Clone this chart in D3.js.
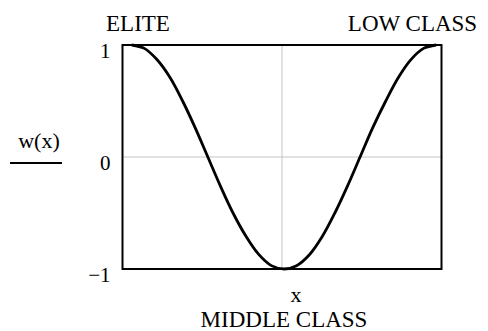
<!DOCTYPE html>
<html>
<head>
<meta charset="utf-8">
<script src="https://cdn.jsdelivr.net/npm/d3@7"></script>
<style>
  body { margin: 0; background: #fff; }
  text { font-family: "Liberation Serif", "Times New Roman", serif; fill: #000; }
</style>
</head>
<body>
<div id="chart"></div>
<script>
const xValues = [0, 0.26, 0.52, 0.79, 1.05, 1.31, 1.57, 1.83, 2.09, 2.36, 2.62, 2.88, 3.14,
                 3.40, 3.67, 3.93, 4.19, 4.45, 4.71, 4.97, 5.24, 5.50, 5.76, 6.02, 6.28];
const wValues = [1, 0.97, 0.87, 0.71, 0.5, 0.26, 0, -0.26, -0.5, -0.71, -0.87, -0.97, -1,
                 -0.97, -0.87, -0.71, -0.5, -0.26, 0, 0.26, 0.5, 0.71, 0.87, 0.97, 1];
const yTicks = [-1, 0, 1];
const xGrid = [3.1];
const yGrid = [0];

// Chart size and plot box
const width = 488, height = 331;
const margin = {top: 45, right: 46.5, bottom: 62, left: 122.5};

const svg = d3.select("#chart")
    .append("svg")
    .attr("width", width)
    .attr("height", height);

const x = d3.scaleLinear().domain([-0.19, 6.39]).range([margin.left, width - margin.right]);
const y = d3.scaleLinear().domain([-1, 1]).range([height - margin.bottom, margin.top]);

// Grid lines
svg.selectAll(".vgrid").data(xGrid).enter().append("line")
    .attr("x1", d => x(d)).attr("x2", d => x(d))
    .attr("y1", y(1)).attr("y2", y(-1))
    .style("stroke", "#c4c4c4").style("stroke-width", 1);

svg.selectAll(".hgrid").data(yGrid).enter().append("line")
    .attr("x1", x.range()[0]).attr("x2", x.range()[1])
    .attr("y1", d => y(d)).attr("y2", d => y(d))
    .style("stroke", "#c4c4c4").style("stroke-width", 1);

// Curve
const points = xValues.map((v, i) => [v, wValues[i]]);
const line = d3.line()
    .x(d => x(d[0]))
    .y(d => y(d[1]))
    .curve(d3.curveCatmullRom);

svg.append("path")
    .datum(points)
    .attr("d", line)
    .style("fill", "none")
    .style("stroke", "#000")
    .style("stroke-width", 2.8);

// Plot box
svg.append("rect")
    .attr("x", x.range()[0])
    .attr("y", y(1))
    .attr("width", x.range()[1] - x.range()[0])
    .attr("height", y(-1) - y(1))
    .style("fill", "none")
    .style("stroke", "#000")
    .style("stroke-width", 2);

// Y tick labels
const yAxis = svg.append("g")
    .attr("transform", `translate(${x.range()[0]},0)`)
    .call(d3.axisLeft(y).tickValues(yTicks).tickFormat(d3.format("d")).tickSize(0).tickPadding(12));
yAxis.select(".domain").remove();
yAxis.selectAll("text")
    .attr("dy", "0.58em")
    .style("font-family", "'Liberation Serif', serif")
    .style("font-size", "21px");

// Labels
svg.append("text").attr("x", 138).attr("y", 31)
    .attr("text-anchor", "middle").style("font-size", "23px").text("ELITE");
svg.append("text").attr("x", 412.5).attr("y", 31)
    .attr("text-anchor", "middle").style("font-size", "23px").text("LOW CLASS");
svg.append("text").attr("x", 39).attr("y", 148)
    .attr("text-anchor", "middle").style("font-size", "22px").text("w(x)");
svg.append("line")
    .attr("x1", 10).attr("x2", 62).attr("y1", 163).attr("y2", 163)
    .style("stroke", "#000").style("stroke-width", 2);
svg.append("text").attr("x", 296).attr("y", 302)
    .attr("text-anchor", "middle").style("font-size", "22px").text("x");
svg.append("text").attr("x", 284).attr("y", 327)
    .attr("text-anchor", "middle").style("font-size", "23px").text("MIDDLE CLASS");
</script>
</body>
</html>
